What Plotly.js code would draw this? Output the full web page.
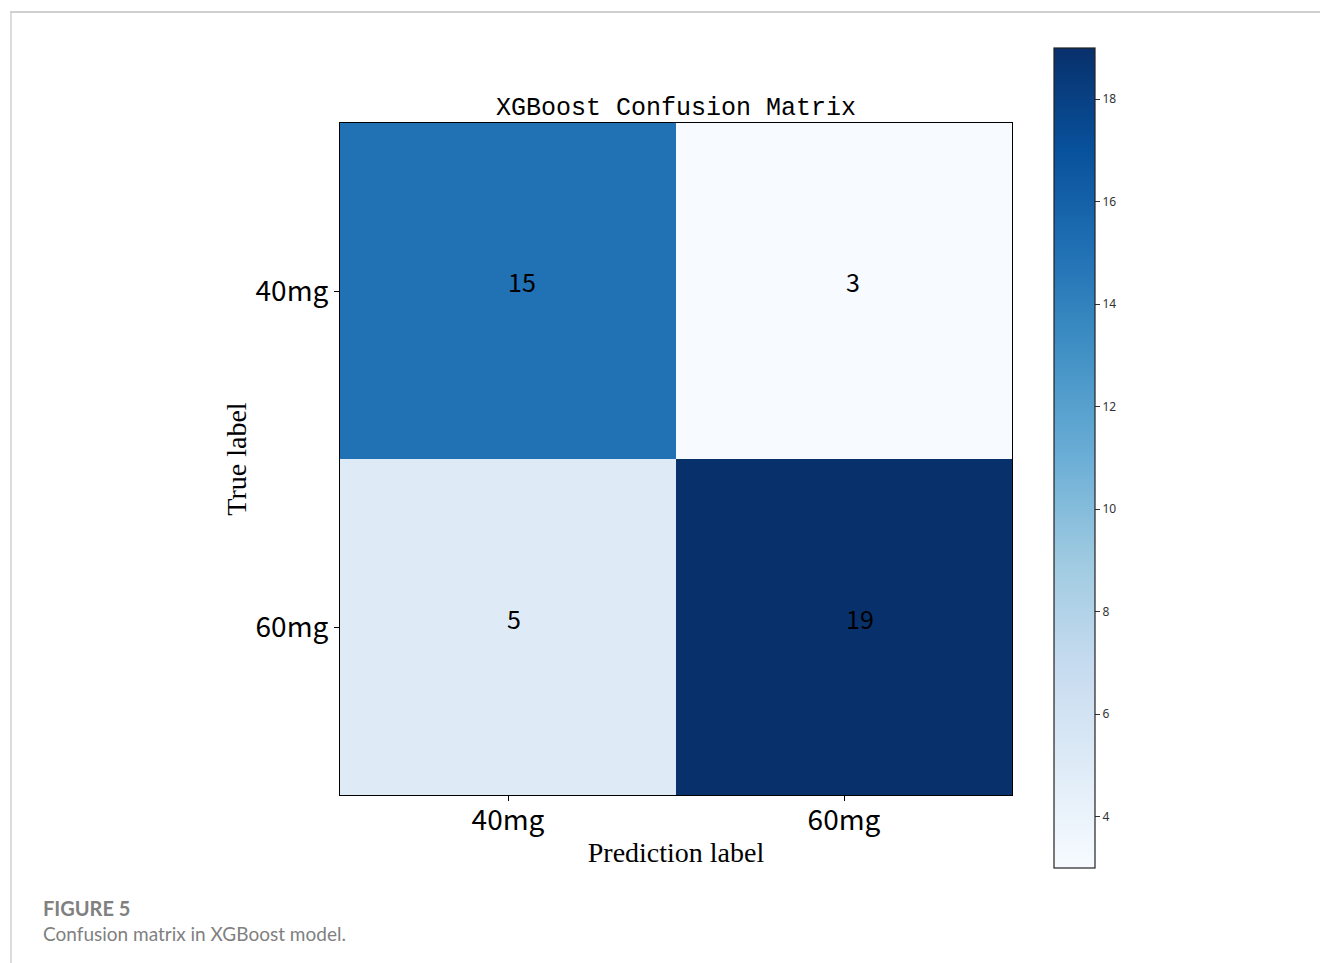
<!DOCTYPE html>
<html>
<head>
<meta charset="utf-8">
<script src="https://cdn.plot.ly/plotly-3.0.1.min.js"></script>
<style>
html,body{margin:0;padding:0;background:#fff;}
#chart{width:1320px;height:963px;}
</style>
</head>
<body>
<div id="chart"></div>
<script>
// Data
const predLabels = ["40mg", "60mg"];
const trueLabels = ["40mg", "60mg"];
const counts = [
  [15, 3],
  [5, 19]
];
const colorbarTicks = [4, 6, 8, 10, 12, 14, 16, 18];
const chartTitle = "XGBoost Confusion Matrix";
const figureLabel = "FIGURE 5";
const figureCaption = "Confusion matrix in XGBoost model.";

const blues = [
  [0.0, "#f7fbff"], [0.125, "#deebf7"], [0.25, "#c6dbef"], [0.375, "#9ecae1"],
  [0.5, "#6baed6"], [0.625, "#4292c6"], [0.75, "#2171b5"], [0.875, "#08519c"], [1.0, "#08306b"]
];

const flat = counts.flat();
const zmin = Math.min(...flat), zmax = Math.max(...flat);

const tickFamily = "'Noto Sans CJK SC', sans-serif";

const trace = {
  type: "heatmap",
  x: predLabels,
  y: trueLabels,
  z: counts,
  zmin: zmin, zmax: zmax,
  colorscale: blues,
  showscale: true,
  hoverinfo: "skip",
  colorbar: {
    x: 1.0625, xanchor: "left", xref: "paper",
    y: 0.5015, yanchor: "middle", yref: "paper",
    thickness: 41, thicknessmode: "pixels",
    len: 820, lenmode: "pixels",
    outlinewidth: 1.2, outlinecolor: "#222",
    tickvals: colorbarTicks,
    ticks: "outside", ticklen: 5, tickwidth: 1, tickcolor: "#333",
    tickfont: {family: "Noto Sans, sans-serif", size: 12, color: "#333"},
    xpad: 0, ypad: 0
  }
};

const annotations = [];
const shiftsX = [[14, 9], [6, 16]];
const shiftsY = [[10, 10], [9, 9]];
for (let i = 0; i < trueLabels.length; i++) {
  for (let j = 0; j < predLabels.length; j++) {
    annotations.push({
      x: predLabels[j], y: trueLabels[i], xref: "x", yref: "y",
      text: String(counts[i][j]), showarrow: false,
      xshift: shiftsX[i][j], yshift: shiftsY[i][j],
      font: {family: "'Noto Sans CJK SC', sans-serif", size: 25, color: "#000"}
    });
  }
}
annotations.push({
  xref: "paper", yref: "paper", x: (41 - 340) / 672, y: (795 - 908) / 672,
  xanchor: "left", yanchor: "middle", showarrow: false,
  text: "<b>" + figureLabel + "</b>",
  font: {family: "Lato, sans-serif", size: 20, color: "#808080"}
});
annotations.push({
  xref: "paper", yref: "paper", x: (41 - 340) / 672, y: (795 - 933) / 672,
  xanchor: "left", yanchor: "middle", showarrow: false,
  text: figureCaption,
  font: {family: "Lato, sans-serif", size: 19, color: "#808080"}
});

const layout = {
  width: 1320, height: 963,
  margin: {l: 340, r: 308, t: 123, b: 168, pad: 0},
  paper_bgcolor: "#fff", plot_bgcolor: "#fff",
  title: {
    text: chartTitle,
    x: 0.5, xanchor: "center", xref: "paper",
    y: 1 - 106 / 963, yanchor: "middle", yref: "container",
    font: {family: "Liberation Mono, monospace", size: 25, color: "#000"}
  },
  xaxis: {
    type: "category", range: [-0.5, 1.5], showgrid: false, zeroline: false,
    ticks: "outside", ticklen: 5, tickcolor: "#000", ticklabelstandoff: -5,
    tickfont: {family: tickFamily, size: 28, color: "#000"},
    showline: true, linecolor: "#000", linewidth: 1, mirror: true,
    title: {text: "Prediction label", standoff: 5,
      font: {family: "Liberation Serif, serif", size: 28, color: "#000"}}
  },
  yaxis: {
    type: "category", range: [1.5, -0.5], showgrid: false, zeroline: false,
    ticks: "outside", ticklen: 5, tickcolor: "#000",
    tickfont: {family: tickFamily, size: 28, color: "#000"},
    showline: true, linecolor: "#000", linewidth: 1, mirror: true,
    title: {text: "True label", standoff: 0,
      font: {family: "Liberation Serif, serif", size: 28, color: "#000"}}
  },
  annotations: annotations,
  shapes: [
    {type: "line", xref: "paper", yref: "paper",
     x0: (10 - 340) / 672, x1: (1320 - 340) / 672, y0: (795 - 12) / 672, y1: (795 - 12) / 672,
     line: {color: "#d0d0d0", width: 2}},
    {type: "line", xref: "paper", yref: "paper",
     x0: (11 - 340) / 672, x1: (11 - 340) / 672, y0: (795 - 12) / 672, y1: (795 - 963) / 672,
     line: {color: "#d0d0d0", width: 1.5}}
  ],
  showlegend: false
};

Plotly.newPlot("chart", [trace], layout, {displayModeBar: false, staticPlot: true});
</script>
</body>
</html>
